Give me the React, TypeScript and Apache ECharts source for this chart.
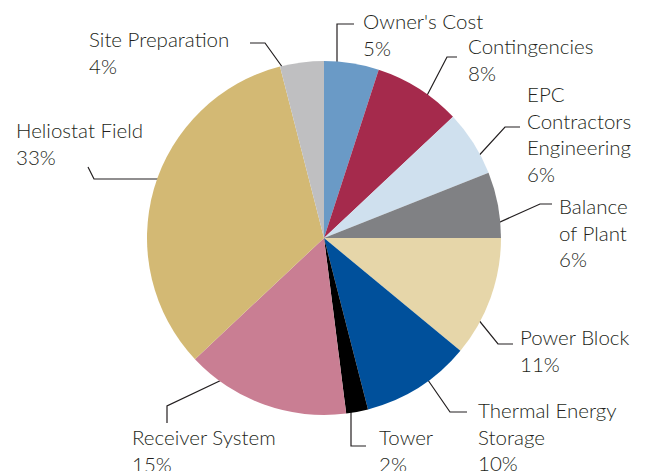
import React, { useEffect, useRef } from "react";
import * as echarts from "echarts";

const categories = [
  "Owner's Cost",
  "Contingencies",
  "EPC\nContractors\nEngineering",
  "Balance\nof Plant",
  "Power Block",
  "Thermal Energy\nStorage",
  "Tower",
  "Receiver System",
  "Heliostat Field",
  "Site Preparation",
];
const shares = [5, 8, 6, 6, 11, 10, 2, 15, 33, 4];
const colors = [
  "#6a9ac6",
  "#a52a4c",
  "#cfe0ee",
  "#808184",
  "#e6d6a9",
  "#00509b",
  "#000000",
  "#c97e93",
  "#d3b974",
  "#bfbfc1",
];

// label placement: [textLeft, firstLineCenterY, linePoints]
const LH = 26.5;
const labelPlaces: [number, number, number[][]][] = [
  [363, 21, [[337, 76], [337, 24], [354, 24]]],
  [468, 46, [[421, 107], [447, 57], [457, 57]]],
  [527, 94, [[473, 162], [505, 127], [520, 127]]],
  [559, 206, [[489, 227], [540, 204], [552, 204]]],
  [520, 337, [[473, 313], [498, 344], [513, 344]]],
  [478, 410, [[421, 370], [450, 412], [467, 412]]],
  [379, 437, [[351, 408], [351, 446], [366, 446]]],
  [132, 437, [[228, 377], [167, 406], [167, 423]]],
  [16, 130, [[167, 179], [94, 179], [88, 167]]],
  [89, 39, [[288, 75], [265, 43], [250, 43]]],
];

export default function App() {
  const ref = useRef<HTMLDivElement>(null);
  useEffect(() => {
    if (!ref.current) return;
    const chart = echarts.init(ref.current, null, { renderer: "svg" });
    chart.setOption({
      animation: false,
      backgroundColor: "#ffffff",
      series: [
        {
          type: "pie",
          center: [324, 238],
          radius: 177,
          startAngle: 90,
          clockwise: true,
          avoidLabelOverlap: false,
          itemStyle: { borderWidth: 0 },
          label: {
            show: true,
            position: "outside",
            formatter: "{b}\n{c}%",
            fontFamily: "Lato",
            fontWeight: 300,
            fontSize: 20.5,
            lineHeight: LH,
            color: "#231f20",
            align: "left",
          },
          labelLine: {
            show: true,
            smooth: false,
            lineStyle: { color: "#231f20", width: 1.2 },
          },
          labelLayout: (params: any) => {
            const p = labelPlaces[params.dataIndex];
            return {
              x: p[0],
              y: p[1] - LH / 2,
              align: "left",
              verticalAlign: "top",
              labelLinePoints: p[2],
            };
          },
          data: categories.map((name, i) => ({
            name,
            value: shares[i],
            itemStyle: { color: colors[i] },
          })),
        },
      ],
    });
    return () => chart.dispose();
  }, []);
  return (
    <div
      ref={ref}
      style={{ position: "fixed", left: 0, top: 0, width: 654, height: 471 }}
    />
  );
}
